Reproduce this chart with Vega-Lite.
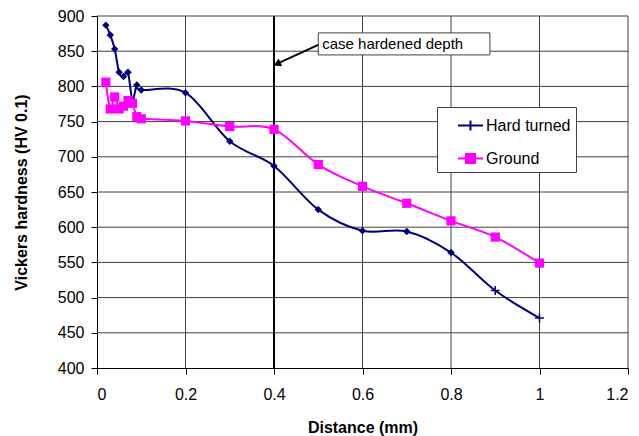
{
  "$schema": "https://vega.github.io/schema/vega-lite/v6.json",
  "width": 531,
  "height": 352,
  "autosize": {"type": "none"},
  "padding": {"left": 97, "top": 16, "right": 11, "bottom": 68},
  "background": "white",
  "config": {
    "font": "Liberation Sans",
    "view": {"stroke": null},
    "axis": {
      "domainColor": "black",
      "tickColor": "black",
      "labelColor": "black",
      "titleColor": "black",
      "labelFontSize": 16,
      "titleFontSize": 16,
      "titleFontWeight": "bold",
      "tickSize": 6
    }
  },
  "datasets": {
    "hv": [
      {"series": "Hard turned", "distance": 0.02, "hv": 887},
      {"series": "Hard turned", "distance": 0.03, "hv": 873},
      {"series": "Hard turned", "distance": 0.04, "hv": 853},
      {"series": "Hard turned", "distance": 0.05, "hv": 820},
      {"series": "Hard turned", "distance": 0.06, "hv": 814},
      {"series": "Hard turned", "distance": 0.07, "hv": 820},
      {"series": "Hard turned", "distance": 0.08, "hv": 781},
      {"series": "Hard turned", "distance": 0.09, "hv": 802},
      {"series": "Hard turned", "distance": 0.1, "hv": 795},
      {"series": "Hard turned", "distance": 0.2, "hv": 791},
      {"series": "Hard turned", "distance": 0.3, "hv": 722},
      {"series": "Hard turned", "distance": 0.4, "hv": 687},
      {"series": "Hard turned", "distance": 0.5, "hv": 625},
      {"series": "Hard turned", "distance": 0.6, "hv": 595},
      {"series": "Hard turned", "distance": 0.7, "hv": 594},
      {"series": "Hard turned", "distance": 0.8, "hv": 564},
      {"series": "Hard turned", "distance": 0.9, "hv": 510},
      {"series": "Hard turned", "distance": 1.0, "hv": 471},
      {"series": "Ground", "distance": 0.02, "hv": 806},
      {"series": "Ground", "distance": 0.03, "hv": 768},
      {"series": "Ground", "distance": 0.04, "hv": 785},
      {"series": "Ground", "distance": 0.05, "hv": 768},
      {"series": "Ground", "distance": 0.06, "hv": 772},
      {"series": "Ground", "distance": 0.07, "hv": 780},
      {"series": "Ground", "distance": 0.08, "hv": 776},
      {"series": "Ground", "distance": 0.09, "hv": 757},
      {"series": "Ground", "distance": 0.1, "hv": 754},
      {"series": "Ground", "distance": 0.2, "hv": 751},
      {"series": "Ground", "distance": 0.3, "hv": 743},
      {"series": "Ground", "distance": 0.4, "hv": 739},
      {"series": "Ground", "distance": 0.5, "hv": 689},
      {"series": "Ground", "distance": 0.6, "hv": 658},
      {"series": "Ground", "distance": 0.7, "hv": 634},
      {"series": "Ground", "distance": 0.8, "hv": 609},
      {"series": "Ground", "distance": 0.9, "hv": 586},
      {"series": "Ground", "distance": 1.0, "hv": 549}
    ],
    "gridX": [
      {"distance": 0.2, "hv": 400, "hv_end": 900},
      {"distance": 0.4, "hv": 400, "hv_end": 900},
      {"distance": 0.6, "hv": 400, "hv_end": 900},
      {"distance": 0.8, "hv": 400, "hv_end": 900},
      {"distance": 1.0, "hv": 400, "hv_end": 900},
      {"distance": 1.2, "hv": 400, "hv_end": 900}
    ],
    "gridY": [
      {"hv": 450, "distance": 0, "distance_end": 1.2},
      {"hv": 500, "distance": 0, "distance_end": 1.2},
      {"hv": 550, "distance": 0, "distance_end": 1.2},
      {"hv": 600, "distance": 0, "distance_end": 1.2},
      {"hv": 650, "distance": 0, "distance_end": 1.2},
      {"hv": 700, "distance": 0, "distance_end": 1.2},
      {"hv": 750, "distance": 0, "distance_end": 1.2},
      {"hv": 800, "distance": 0, "distance_end": 1.2},
      {"hv": 850, "distance": 0, "distance_end": 1.2},
      {"hv": 900, "distance": 0, "distance_end": 1.2}
    ],
    "depthLine": [{"distance": 0.4, "hv": 400, "hv_end": 900}],
    "noteBox": [{"distance": 0.5, "distance_end": 0.888, "hv": 876, "hv_end": 844.7}],
    "noteText": [{"distance": 0.5, "hv": 860.5, "label": "case hardened depth"}],
    "arrow": [{"distance": 0.5, "hv": 859, "distance_end": 0.41, "hv_end": 833}],
    "arrowHead": [{"distance": 0.407, "hv": 832}]
  },
  "encoding": {
    "x": {
      "field": "distance", "type": "quantitative",
      "scale": {"domain": [0, 1.2], "nice": false},
      "axis": {
        "values": [0, 0.2, 0.4, 0.6, 0.8, 1, 1.2],
        "format": "~g",
        "grid": false,
        "labelPadding": 12,
        "title": "Distance (mm)",
        "titlePadding": 17
      }
    },
    "y": {
      "field": "hv", "type": "quantitative",
      "scale": {"domain": [400, 900], "nice": false, "zero": false},
      "axis": {
        "values": [400, 450, 500, 550, 600, 650, 700, 750, 800, 850, 900],
        "grid": false,
        "labelPadding": 7,
        "title": "Vickers hardness (HV 0.1)",
        "titlePadding": 28
      }
    }
  },
  "layer": [
    {
      "data": {"name": "gridX"},
      "mark": {"type": "rule", "color": "#404040", "strokeWidth": 1},
      "encoding": {"y2": {"field": "hv_end"}}
    },
    {
      "data": {"name": "gridY"},
      "mark": {"type": "rule", "color": "#404040", "strokeWidth": 1},
      "encoding": {"x2": {"field": "distance_end"}}
    },
    {
      "data": {"name": "hv"},
      "mark": {"type": "line", "interpolate": "cardinal", "strokeWidth": 2},
      "encoding": {
        "color": {
          "field": "series", "type": "nominal",
          "scale": {"domain": ["Hard turned", "Ground"], "range": ["#000080", "#FF00FF"]},
          "legend": {
            "title": null,
            "orient": "none",
            "legendX": 340,
            "legendY": 91,
            "fillColor": "white",
            "strokeColor": "#404040",
            "padding": 5,
            "rowPadding": 10,
            "labelFontSize": 16,
            "labelColor": "black",
            "symbolSize": 625,
            "symbolStrokeWidth": 2,
            "labelOffset": 2,
            "symbolOffset": 15,
            "encode": {
              "symbols": {
                "update": {
                  "shape": {"signal": "datum.value === 'Ground' ? 'M-1,0H1M-0.36,-0.36H0.36V0.36H-0.36Z' : 'M-1,0H1M0,-0.4V0.4'"},
                  "fill": {"signal": "datum.value === 'Ground' ? '#FF00FF' : 'transparent'"},
                  "stroke": {"signal": "datum.value === 'Ground' ? '#FF00FF' : '#000080'"}
                }
              }
            }
          }
        }
      }
    },
    {
      "data": {"name": "depthLine"},
      "mark": {"type": "rule", "color": "black", "strokeWidth": 2},
      "encoding": {"y2": {"field": "hv_end"}}
    },
    {
      "data": {"name": "noteBox"},
      "mark": {"type": "rect", "fill": "white", "stroke": "#404040", "strokeWidth": 1, "opacity": 1},
      "encoding": {"x2": {"field": "distance_end"}, "y2": {"field": "hv_end"}}
    },
    {
      "data": {"name": "noteText"},
      "mark": {"type": "text", "align": "left", "baseline": "middle", "dx": 4, "fontSize": 15, "fill": "black"},
      "encoding": {"text": {"field": "label"}}
    },
    {
      "data": {"name": "arrow"},
      "mark": {"type": "rule", "color": "black", "strokeWidth": 2},
      "encoding": {"x2": {"field": "distance_end"}, "y2": {"field": "hv_end"}}
    },
    {
      "data": {"name": "arrowHead"},
      "mark": {"type": "point", "shape": "triangle-right", "filled": true, "color": "black", "size": 70, "angle": 155, "opacity": 1}
    },
    {
      "data": {"name": "hv"},
      "transform": [{"filter": "datum.series === 'Hard turned' && datum.distance < 0.85"}],
      "mark": {"type": "point", "shape": "diamond", "filled": true, "color": "#000080", "size": 55, "opacity": 1}
    },
    {
      "data": {"name": "hv"},
      "transform": [{"filter": "datum.series === 'Hard turned' && datum.distance > 0.85"}],
      "mark": {"type": "point", "shape": "M-1,0H1M0,-1V1", "filled": false, "color": "#000080", "size": 80, "strokeWidth": 1.5, "opacity": 1}
    },
    {
      "data": {"name": "hv"},
      "transform": [{"filter": "datum.series === 'Ground'"}],
      "mark": {"type": "point", "shape": "square", "filled": true, "color": "#FF00FF", "size": 85, "opacity": 1}
    }
  ]
}
